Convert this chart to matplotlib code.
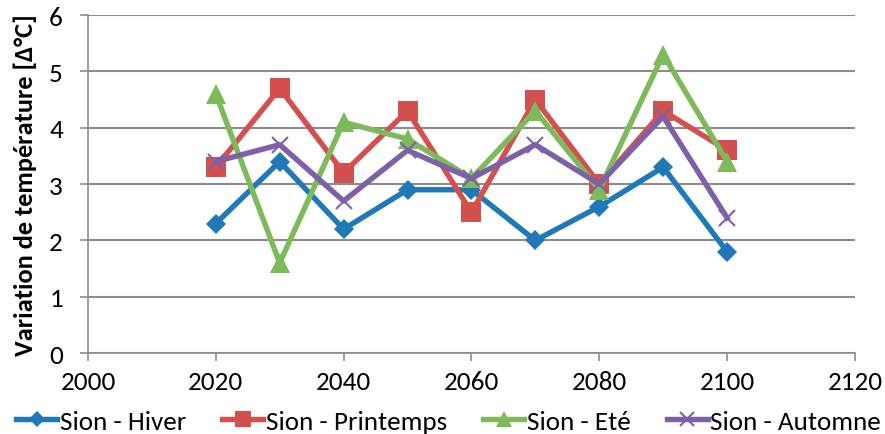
import matplotlib
matplotlib.use('Agg')
import matplotlib.pyplot as plt

plt.rcParams['font.family'] = ['Carlito', 'Liberation Sans', 'DejaVu Sans']

years = [2020, 2030, 2040, 2050, 2060, 2070, 2080, 2090, 2100]
hiver = [2.3, 3.4, 2.2, 2.9, 2.9, 2.0, 2.6, 3.3, 1.8]
printemps = [3.3, 4.7, 3.2, 4.3, 2.5, 4.5, 3.0, 4.3, 3.6]
ete = [4.6, 1.6, 4.1, 3.8, 3.1, 4.3, 2.9, 5.3, 3.4]
automne = [3.4, 3.7, 2.7, 3.6, 3.1, 3.7, 3.0, 4.2, 2.4]

labels = ['Sion - Hiver', 'Sion - Printemps', 'Sion - Eté', 'Sion - Automne']
colors = ['#1f78b8', '#d4504f', '#7dba5a', '#7e60a8']
markers = ['D', 's', '^', 'x']
msizes = [10.5, 14, 14, 12]

fig = plt.figure(figsize=(8.85, 4.35), dpi=100)
ax = fig.add_axes([0.0994, 0.186, 0.8666, 0.777])

for vals, lab, c, m, ms in zip([hiver, printemps, ete, automne], labels, colors, markers, msizes):
    ax.plot(years, vals, color=c, lw=3.9, marker=m, markersize=ms,
            markeredgewidth=1.5 if m == 'x' else 0, label=lab)

ax.set_xlim(2000, 2120)
ax.set_ylim(0, 6)
ax.set_xticks(range(2000, 2121, 20))
ax.set_yticks(range(0, 7))
ax.yaxis.grid(True, color='#8c8c8c', lw=1.5)
ax.set_axisbelow(True)
for s in ['top', 'right']:
    ax.spines[s].set_visible(False)
for s in ['left', 'bottom']:
    ax.spines[s].set_color('#8c8c8c')
    ax.spines[s].set_linewidth(1.2)
ax.tick_params(axis='both', labelsize=19.5, color='#8c8c8c', length=6, width=1.2)
ax.tick_params(axis='x', pad=6)
ax.tick_params(axis='y', pad=12)
ax.set_ylabel('Variation de température [Δ°C]', fontsize=19, fontweight='bold', labelpad=9)

ax.legend(loc='lower center', bbox_to_anchor=(0.507, 0.0), bbox_transform=fig.transFigure,
          ncol=4, frameon=False, fontsize=19.5, handlelength=1.5, columnspacing=1.35,
          handletextpad=0.1, borderpad=0.05, borderaxespad=0, markerscale=0.8)

fig.savefig('out.png', dpi=100)
